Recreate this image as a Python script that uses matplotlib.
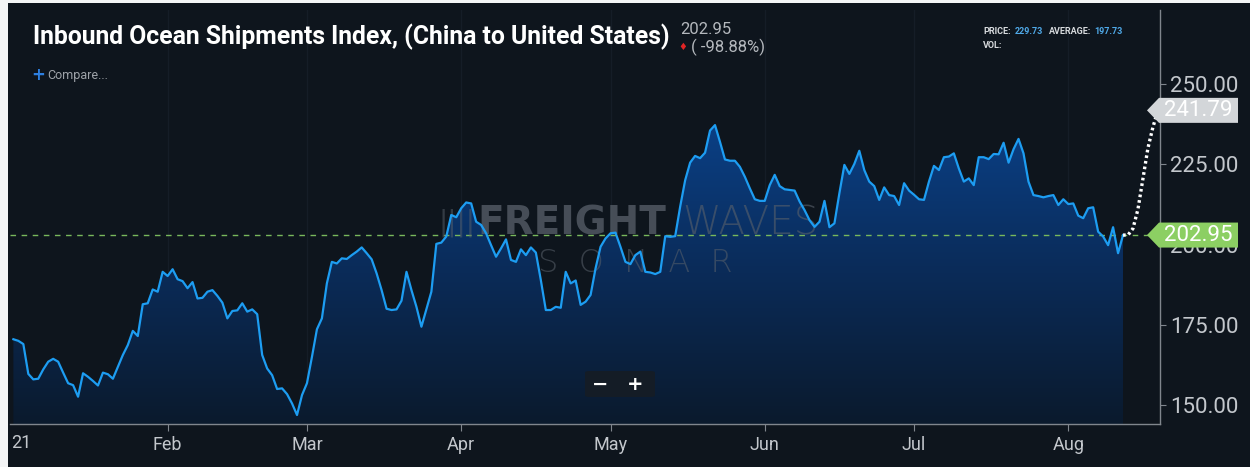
import numpy as np
import pandas as pd
import matplotlib
matplotlib.use("Agg")
import matplotlib.pyplot as plt
import matplotlib.dates as mdates
import matplotlib.patches as mpatches
from matplotlib.colors import LinearSegmentedColormap

# daily index values, 1 Jan 2021 -> 12 Aug 2021
index_values = [
    170.5, 170.0, 169.0, 159.7, 158.0, 158.2, 161.1, 163.5, 164.4, 163.5,
    160.1, 156.8, 156.2, 152.6, 159.9, 158.8, 157.5, 156.1, 160.1, 159.6,
    158.2, 161.9, 165.6, 168.7, 173.1, 171.5, 181.4, 181.7, 186.0, 185.3,
    191.5, 190.2, 192.3, 189.2, 188.6, 186.4, 188.3, 183.2, 183.4, 185.3,
    185.8, 184.0, 181.9, 177.0, 179.3, 179.5, 181.7, 179.1, 179.8, 178.3,
    165.6, 161.4, 159.3, 155.0, 155.2, 153.4, 150.5, 146.9, 153.1, 156.8,
    165.0, 173.6, 177.0, 187.9, 194.6, 194.1, 195.7, 195.5, 196.7, 197.8,
    199.1, 197.3, 195.4, 191.0, 185.8, 180.0, 179.6, 179.8, 182.5, 191.5,
    185.8, 180.6,
    174.4, 179.8, 185.3, 200.2, 200.6, 202.5, 209.2,
    208.5, 211.3, 213.1, 212.8, 207.1, 206.1, 203.5, 199.8, 196.2, 198.8,
    201.6, 195.2, 194.6, 198.5, 196.7, 199.1, 197.5, 188.9, 179.6, 179.6,
    180.6, 180.3, 191.5, 187.9, 188.8, 181.2, 182.2, 184.3, 192.6, 199.3,
    201.9, 203.5, 203.7, 199.3, 194.6, 193.9, 196.7, 197.8, 191.5, 191.3,
    190.8, 191.5, 202.6, 202.4, 202.6, 211.8,
    220.0,
    225.5, 227.6, 226.9, 228.6, 235.5, 237.2, 232.0, 226.5, 226.1, 226.1,
    224.2, 221.1, 217.5, 214.1, 213.6, 213.6, 218.5, 221.7, 218.2, 217.2,
    217.0, 216.8, 213.4, 210.7, 207.6, 205.5, 207.1, 213.6, 205.4, 206.6,
    216.0, 224.8, 222.0, 225.1, 229.2, 223.2, 219.6, 218.2, 213.9, 217.8,
    215.4, 215.1, 212.3, 219.1, 216.8, 215.5,
    214.1, 213.9, 219.6, 224.5, 223.2, 227.2, 227.4, 228.4, 223.7, 219.6,
    220.6, 218.5, 227.2, 227.2, 226.6, 228.2, 228.1, 231.7, 225.5, 229.7,
    232.9, 228.4, 219.6, 215.4, 215.1, 214.7, 215.1, 215.4, 212.3, 214.1,
    212.6, 212.8, 209.0, 208.2, 211.3, 211.6, 204.0, 202.5, 199.8, 205.4,
    197.3, 202.95,
]
start_date = "2021-01-01"

# dotted projection 12 Aug -> 19 Aug
forecast_values = [202.95, 202.95, 205.0, 211.0, 220.5, 230.0, 236.5, 241.79]

month_ticks = ["2021-02-01", "2021-03-01", "2021-04-01", "2021-05-01",
               "2021-06-01", "2021-07-01", "2021-08-01"]
month_labels = ["Feb", "Mar", "Apr", "May", "Jun", "Jul", "Aug"]
y_ticks = [150, 175, 200, 225, 250]

last_value = 202.95
projected_value = 241.79
change_pct = -98.88
price_value = 229.73
average_value = 197.73

title = "Inbound Ocean Shipments Index, (China to United States)"

W, H = 1250, 467
BG = "#0e151d"
GREY = "#c3c7cc"
roboto = ["Roboto", "DejaVu Sans"]

fig = plt.figure(figsize=(W / 100, H / 100), dpi=100, facecolor=BG)
ax = fig.add_axes([10 / W, 43 / H, 1150 / W, 414 / H], facecolor=BG)

dates = pd.date_range(start_date, periods=len(index_values), freq="D")
x = mdates.date2num(dates)
fc_dates = pd.date_range(dates[-1], periods=len(forecast_values), freq="D")
fc_x = mdates.date2num(fc_dates)

ymin, ymax = 144.1, 273.05
xmin = mdates.date2num(pd.Timestamp("2021-01-01")) - 0.68
xmax = mdates.date2num(pd.Timestamp("2021-08-01")) + 18.43

# gradient area under the line
fill = ax.fill_between(x, index_values, ymin, facecolor="none", edgecolor="none")
cmap = LinearSegmentedColormap.from_list("fill", ["#0b1a2d", "#0a2b58", "#0b4086"])
grad = np.linspace(0, 1, 256).reshape(-1, 1)
img = ax.imshow(grad, extent=[x[0], x[-1], ymin, 238], origin="lower",
                aspect="auto", cmap=cmap, zorder=1, interpolation="bicubic")
img.set_clip_path(fill.get_paths()[0], transform=ax.transData)

# month gridlines
for m in month_ticks:
    ax.axvline(mdates.date2num(pd.Timestamp(m)), color="#151d27", lw=1, zorder=0.5)

ax.axhline(last_value, color="#79b85c", lw=1, ls=(0, (4, 4)), zorder=3)
ax.plot(x, index_values, color="#1d9df2", lw=1.6, zorder=5, solid_joinstyle="round")
ax.plot(fc_x, forecast_values, color="white", lw=2.4, ls=(0, (0.8, 0.9)),
        dash_capstyle="butt", zorder=5)

ax.set_xlim(xmin, xmax)
ax.set_ylim(ymin, ymax)

# watermark
wm = "#59616b"
ax.text(0.373, 0.485, "||||", transform=ax.transAxes, fontsize=20,
        family=["DejaVu Sans"], color=wm, alpha=0.5, va="center", zorder=4)
ax.text(0.406, 0.485, "FREIGHT", transform=ax.transAxes, fontsize=28, fontweight="bold",
        family=["DejaVu Sans"], color=wm, alpha=0.75, va="center", zorder=4)
ax.text(0.585, 0.485, "WAVES", transform=ax.transAxes, fontsize=28, fontweight="light",
        family=["DejaVu Sans"], color=wm, alpha=0.6, va="center", zorder=4)
ax.text(0.544, 0.39, "S  O  N  A  R", transform=ax.transAxes, fontsize=23, fontweight="light",
        family=["DejaVu Sans"], color=wm, alpha=0.55, va="center", ha="center", zorder=4)

# zoom control
ax.add_patch(mpatches.FancyBboxPatch(((585 - 10) / 1150, (424 - 397) / 414), 70 / 1150, 26 / 414,
                                     boxstyle="round,pad=0,rounding_size=0.004",
                                     transform=ax.transAxes, facecolor="#141c26",
                                     edgecolor="none", zorder=6))
ax.text((600 - 10) / 1150, (424 - 384) / 414, "\u2212", transform=ax.transAxes, color="white",
        fontsize=14, fontweight="bold", ha="center", va="center", zorder=7)
ax.text((635 - 10) / 1150, (424 - 384) / 414, "+", transform=ax.transAxes, color="white",
        fontsize=14, fontweight="bold", ha="center", va="center", zorder=7)

# axes styling
for s in ["left", "top"]:
    ax.spines[s].set_visible(False)
for s in ["right", "bottom"]:
    ax.spines[s].set_color("#80868d")
    ax.spines[s].set_linewidth(1)
ax.yaxis.tick_right()
ax.set_yticks(y_ticks)
ax.set_yticklabels([f"{v:.2f}" for v in y_ticks], family=roboto, fontsize=16, color=GREY)
ax.set_xticks([mdates.date2num(pd.Timestamp(m)) for m in month_ticks])
ax.set_xticklabels(month_labels, family=roboto, fontsize=13, color=GREY)
ax.tick_params(axis="y", length=4, pad=3, color="#80868d")
ax.tick_params(axis="x", length=5, pad=4, color="#80868d")
fig.text(11 / W, 24 / H, "21", family=roboto, fontsize=13, color=GREY, va="center")


# price tags on the right axis
def price_tag(value, text, color):
    y_px = ax.transData.transform((xmin, value))[1]
    hh = 12.5
    pts = [(1147, y_px), (1159, y_px + hh), (1238, y_px + hh),
           (1238, y_px - hh), (1159, y_px - hh)]
    fig.add_artist(mpatches.Polygon([(px / W, py / H) for px, py in pts], closed=True,
                                    transform=fig.transFigure, facecolor=color,
                                    edgecolor="none", zorder=10))
    fig.text(1198 / W, y_px / H, text, family=roboto, fontsize=16, color="white",
             ha="center", va="center", zorder=11)


price_tag(projected_value, f"{projected_value:.2f}", "#d3d6d9")
price_tag(last_value, f"{last_value:.2f}", "#8ccf63")

# header
fig.text(33 / W, (H - 37) / H, title, family=roboto, fontweight="bold", fontsize=17.8,
         color="white", va="center")
fig.text(680 / W, (H - 30) / H, f"{last_value:.2f}", family=roboto, fontsize=12,
         color="#b4b8bd", va="center")
fig.text(683 / W, (H - 47) / H, "\u2666", family=["DejaVu Sans"], fontsize=7,
         color="#e02424", va="center", ha="center")
fig.text(691 / W, (H - 47) / H, f"( {change_pct:.2f}%)", family=roboto, fontsize=12,
         color="#b4b8bd", va="center")
small = dict(family=roboto, fontsize=6.5, va="center", fontweight="bold")
fig.text(983 / W, (H - 32) / H, "PRICE:", color="#d8dbde", **small)
fig.text(1015 / W, (H - 32) / H, f"{price_value:.2f}", color="#4fa9e8", **small)
fig.text(1049 / W, (H - 32) / H, "AVERAGE:", color="#d8dbde", **small)
fig.text(1094 / W, (H - 32) / H, f"{average_value:.2f}", color="#4fa9e8", **small)
fig.text(983 / W, (H - 46) / H, "VOL:", color="#d8dbde", **small)
fig.text(31 / W, (H - 75) / H, "+", family=["DejaVu Sans"], fontsize=12, color="#2d7fe0",
         va="center", fontweight="bold")
fig.text(47 / W, (H - 76) / H, "Compare...", family=roboto, fontsize=9, color="#9ea3a9",
         va="center")

# light page margin on the left and top of the screenshot
fig.add_artist(mpatches.Rectangle((0, 0), 8 / W, 1, transform=fig.transFigure,
                                  facecolor="#f4f5f6", edgecolor="none", zorder=20))
fig.add_artist(mpatches.Rectangle((0, 1 - 3 / H), 1, 3 / H, transform=fig.transFigure,
                                  facecolor="#f4f5f6", edgecolor="none", zorder=20))

fig.savefig("out.png", dpi=100, facecolor=BG)
